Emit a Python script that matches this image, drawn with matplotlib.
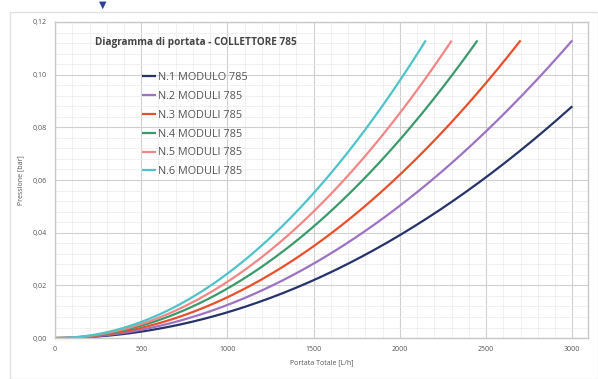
import numpy as np
import matplotlib.pyplot as plt
import matplotlib.patches as mpatches
from matplotlib.ticker import MultipleLocator, FuncFormatter

# portata [L/h] e perdite di carico [bar]
q1 = [0, 250, 500, 750, 1000, 1250, 1500, 1750, 2000, 2250, 2500, 2750, 3000]
p1 = [0, 0.0006, 0.0024, 0.0055, 0.0098, 0.0153, 0.022, 0.030, 0.039, 0.0495, 0.061, 0.074, 0.088]
q2 = [0, 250, 500, 750, 1000, 1250, 1500, 1750, 2000, 2250, 2500, 2750, 3000]
p2 = [0, 0.0008, 0.0031, 0.0071, 0.0126, 0.0196, 0.0283, 0.0385, 0.0502, 0.0636, 0.0785, 0.095, 0.113]
q3 = [0, 250, 500, 750, 1000, 1250, 1500, 1750, 2000, 2250, 2500, 2700]
p3 = [0, 0.0010, 0.0039, 0.0087, 0.0155, 0.0242, 0.0349, 0.0475, 0.062, 0.0785, 0.0969, 0.113]
q4 = [0, 250, 500, 750, 1000, 1250, 1500, 1750, 2000, 2250, 2450]
p4 = [0, 0.0012, 0.0047, 0.0106, 0.0188, 0.0294, 0.0424, 0.0577, 0.0753, 0.0953, 0.113]
q5 = [0, 250, 500, 750, 1000, 1250, 1500, 1750, 2000, 2250, 2300]
p5 = [0, 0.0013, 0.0053, 0.012, 0.0214, 0.0334, 0.0481, 0.0654, 0.0854, 0.108, 0.113]
q6 = [0, 250, 500, 750, 1000, 1250, 1500, 1750, 2000, 2150]
p6 = [0, 0.0015, 0.0061, 0.0138, 0.0245, 0.0382, 0.055, 0.0749, 0.0978, 0.113]

labels = ['N.1 MODULO 785', 'N.2 MODULI 785', 'N.3 MODULI 785',
          'N.4 MODULI 785', 'N.5 MODULI 785', 'N.6 MODULI 785']
colors = ['#26336b', '#9d72c4', '#ea4f2b', '#3b9a6c', '#f28686', '#4fc3c9']

plt.rcParams['font.family'] = ['Open Sans', 'DejaVu Sans']
fig = plt.figure(figsize=(5.98, 3.79), dpi=100)
ax = fig.add_axes([0.092, 0.108, 0.891, 0.834])

series = [(q1, p1), (q2, p2), (q3, p3), (q4, p4), (q5, p5), (q6, p6)]
for (q, p), lab, c in zip(series, labels, colors):
    # curva liscia passante vicino ai punti letti
    qq = np.linspace(q[0], q[-1], 200)
    coef = np.polyfit(q, p, 3)
    pp = np.clip(np.polyval(coef, qq), 0, None)
    ax.plot(qq, pp, color=c, lw=1.6, label=lab, solid_capstyle='butt')

ax.set_xlim(0, 3090)
ax.set_ylim(0, 0.12)
ax.xaxis.set_major_locator(MultipleLocator(500))
ax.xaxis.set_minor_locator(MultipleLocator(100))
ax.yaxis.set_major_locator(MultipleLocator(0.02))
ax.yaxis.set_minor_locator(MultipleLocator(0.004))
ax.yaxis.set_major_formatter(FuncFormatter(lambda v, pos: f'{v:.2f}'.replace('.', ',')))
ax.grid(which='major', color='#d0d0d0', lw=0.8)
ax.grid(which='minor', color='#ececec', lw=0.5)
ax.set_axisbelow(True)
ax.tick_params(which='both', length=0, labelsize=5, colors='#555555', pad=6)
for s in ax.spines.values():
    s.set_color('#c8c8c8')
    s.set_linewidth(1)

ax.set_xlabel('Portata Totale [L/h]', fontsize=5, color='#555555', labelpad=4)
ax.set_ylabel('Pressione [bar]', fontsize=5, color='#555555', labelpad=6)

ax.text(0.075, 0.935, 'Diagramma di portata - COLLETTORE 785', transform=ax.transAxes,
        fontsize=7.2, fontweight='bold', color='#444444', va='center')

leg = ax.legend(loc='upper left', bbox_to_anchor=(0.155, 0.855), frameon=False,
                fontsize=7.8, handlelength=1.3, handletextpad=0.2, labelspacing=0.72,
                borderaxespad=0)
for t in leg.get_texts():
    t.set_color('#555555')

# cornice esterna e freccia blu in alto
fig.add_artist(mpatches.Rectangle((10 / 598, 0.0), 588 / 598, 1 - 12 / 379,
                                  transform=fig.transFigure, fill=False,
                                  edgecolor='#e2e2e2', lw=1))
fig.text(103 / 598, 1 - 5 / 379, '\u25bc', color='#2a3f9e', fontsize=7,
         ha='center', va='center')

fig.savefig('out.png', dpi=100)
